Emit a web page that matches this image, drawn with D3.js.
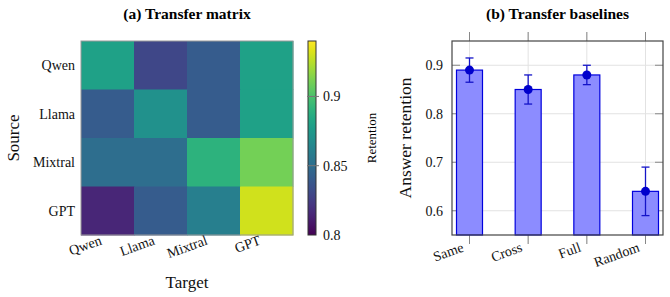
<!DOCTYPE html>
<html>
<head>
    <meta charset="utf-8" />
    <title>Transfer matrix and baselines</title>
    <style>
        body { margin: 0; background: #fff; }
        svg { display: block; font-family: "Liberation Serif", "Times New Roman", serif; }
        .tick-label { font-size: 14px; fill: #111; }
        .title { font-size: 15.5px; font-weight: bold; text-anchor: middle; fill: #000; }
        .axis-label { font-size: 17px; text-anchor: middle; fill: #111; }
    </style>
</head>
<body>
    <svg id="chart" width="670" height="297"></svg>
    <script src="https://d3js.org/d3.v7.min.js"></script>
    <script>
        // heatmap data (rows = source, cols = target)
        var models = ["Qwen", "Llama", "Mixtral", "GPT"];
        var retentionMatrix = [
            [0.88, 0.83, 0.84, 0.88],
            [0.84, 0.87, 0.84, 0.88],
            [0.85, 0.85, 0.89, 0.91],
            [0.815, 0.84, 0.86, 0.93]
        ];
        var colorbarTicks = [0.8, 0.85, 0.9];
        var colorbarTickLabels = ["0.8", "0.85", "0.9"];

        // bar chart data
        var baselines = ["Same", "Cross", "Full", "Random"];
        var baselineValues = [0.89, 0.85, 0.88, 0.64];
        var baselineErrors = [0.025, 0.03, 0.02, 0.05];
        var retentionTicks = [0.6, 0.7, 0.8, 0.9];

        var svg = d3.select("#chart");

        // ---------- (a) heatmap ----------
        var hm = { left: 81, right: 293, top: 41, bottom: 235 };

        var xHeat = d3.scaleBand().domain(models).range([hm.left, hm.right]);
        var yHeat = d3.scaleBand().domain(models).range([hm.top, hm.bottom]);
        var color = d3.scaleSequential(d3.interpolateViridis).domain([0.8, 0.94]);

        var cells = [];
        retentionMatrix.forEach(function(row, i) {
            row.forEach(function(v, j) {
                cells.push({ source: models[i], target: models[j], value: v });
            });
        });

        svg.append("g").selectAll("rect")
            .data(cells)
            .join("rect")
            .attr("x", function(d) { return xHeat(d.target); })
            .attr("y", function(d) { return yHeat(d.source); })
            .attr("width", xHeat.bandwidth() + 0.5)
            .attr("height", yHeat.bandwidth() + 0.5)
            .attr("fill", function(d) { return color(d.value); });

        svg.append("rect")
            .attr("x", hm.left).attr("y", hm.top)
            .attr("width", hm.right - hm.left).attr("height", hm.bottom - hm.top)
            .attr("fill", "none").attr("stroke", "#999").attr("stroke-width", 1);

        svg.append("g").selectAll("text")
            .data(models)
            .join("text")
            .attr("class", "tick-label")
            .attr("x", hm.left - 6)
            .attr("y", function(d) { return yHeat(d) + yHeat.bandwidth() / 2; })
            .attr("dy", "0.35em")
            .attr("text-anchor", "end")
            .text(function(d) { return d; });

        svg.append("g").selectAll("text")
            .data(models)
            .join("text")
            .attr("class", "tick-label")
            .attr("text-anchor", "end")
            .attr("transform", function(d) {
                return "translate(" + (xHeat(d) + xHeat.bandwidth() / 2 - 5) + ",244) rotate(-20)";
            })
            .text(function(d) { return d; });

        svg.append("text")
            .attr("class", "axis-label")
            .attr("transform", "translate(19," + (hm.top + hm.bottom) / 2 + ") rotate(-90)")
            .text("Source");

        svg.append("text")
            .attr("class", "axis-label")
            .attr("x", (hm.left + hm.right) / 2)
            .attr("y", 288)
            .text("Target");

        svg.append("text")
            .attr("class", "title")
            .attr("x", (hm.left + hm.right) / 2)
            .attr("y", 19)
            .text("(a) Transfer matrix");

        // colorbar
        var cb = { x: 308, w: 8, top: 41, bottom: 235 };
        var yBar = d3.scaleLinear().domain(color.domain()).range([cb.bottom, cb.top]);

        var grad = svg.append("defs").append("linearGradient")
            .attr("id", "viridis")
            .attr("x1", "0").attr("y1", "1").attr("x2", "0").attr("y2", "0");
        d3.range(0, 1.001, 0.05).forEach(function(t) {
            grad.append("stop").attr("offset", t).attr("stop-color", d3.interpolateViridis(t));
        });

        svg.append("rect")
            .attr("x", cb.x).attr("y", cb.top)
            .attr("width", cb.w).attr("height", cb.bottom - cb.top)
            .attr("fill", "url(#viridis)")
            .attr("stroke", "#333").attr("stroke-width", 1);

        svg.append("g").selectAll("line")
            .data(colorbarTicks.slice(1))
            .join("line")
            .attr("x1", cb.x - 1).attr("x2", cb.x + cb.w + 3)
            .attr("y1", function(d) { return yBar(d); })
            .attr("y2", function(d) { return yBar(d); })
            .attr("stroke", "#777").attr("stroke-width", 1);

        svg.append("g").selectAll("text")
            .data(colorbarTicks)
            .join("text")
            .attr("class", "tick-label")
            .attr("x", cb.x + cb.w + 7)
            .attr("y", function(d) { return yBar(d); })
            .attr("dy", "0.35em")
            .text(function(d, i) { return colorbarTickLabels[i]; });

        svg.append("text")
            .attr("transform", "translate(376," + (cb.top + cb.bottom) / 2 + ") rotate(-90)")
            .attr("text-anchor", "middle")
            .style("font-size", "13px")
            .text("Retention");

        // ---------- (b) bar chart ----------
        var bc = { left: 452, right: 663, top: 41, bottom: 235 };

        var x = d3.scalePoint().domain(baselines).range([bc.left + 17.5, bc.right - 17.5]);
        var y = d3.scaleLinear().domain([0.55, 0.95]).range([bc.bottom, bc.top]);
        var barWidth = 26;

        // grid
        svg.append("g").selectAll("line")
            .data(retentionTicks)
            .join("line")
            .attr("x1", bc.left).attr("x2", bc.right)
            .attr("y1", function(d) { return y(d); })
            .attr("y2", function(d) { return y(d); })
            .attr("stroke", "#e2e2e2");
        svg.append("g").selectAll("line")
            .data(baselines)
            .join("line")
            .attr("x1", function(d) { return x(d); })
            .attr("x2", function(d) { return x(d); })
            .attr("y1", bc.top - 9).attr("y2", bc.bottom + 9)
            .attr("stroke", "#e2e2e2");
        // outer tick marks on x
        svg.append("g").selectAll("line")
            .data(baselines)
            .join("line")
            .attr("x1", function(d) { return x(d); })
            .attr("x2", function(d) { return x(d); })
            .attr("y1", bc.bottom).attr("y2", bc.bottom + 9)
            .attr("stroke", "#888");
        svg.append("g").selectAll("line")
            .data(baselines)
            .join("line")
            .attr("x1", function(d) { return x(d); })
            .attr("x2", function(d) { return x(d); })
            .attr("y1", bc.top - 9).attr("y2", bc.top)
            .attr("stroke", "#888");
        // inner y ticks
        [bc.left, bc.right - 8].forEach(function(x0) {
            svg.append("g").selectAll("line")
                .data(retentionTicks)
                .join("line")
                .attr("x1", x0).attr("x2", x0 + 8)
                .attr("y1", function(d) { return y(d); })
                .attr("y2", function(d) { return y(d); })
                .attr("stroke", "#888");
        });

        svg.append("g").selectAll("rect")
            .data(baselineValues)
            .join("rect")
            .attr("x", function(d, i) { return x(baselines[i]) - barWidth / 2; })
            .attr("y", function(d) { return y(d); })
            .attr("width", barWidth)
            .attr("height", function(d) { return bc.bottom - y(d); })
            .attr("fill", "#8c8cff")
            .attr("stroke", "#0000dd")
            .attr("stroke-width", 1.2);

        // error bars + markers
        var eb = svg.append("g").attr("stroke", "#1414c8").attr("stroke-width", 1.3);
        baselineValues.forEach(function(v, i) {
            var cx = x(baselines[i]);
            var lo = y(v - baselineErrors[i]), hi = y(v + baselineErrors[i]);
            eb.append("line").attr("x1", cx).attr("x2", cx).attr("y1", lo).attr("y2", hi);
            eb.append("line").attr("x1", cx - 4).attr("x2", cx + 4).attr("y1", lo).attr("y2", lo);
            eb.append("line").attr("x1", cx - 4).attr("x2", cx + 4).attr("y1", hi).attr("y2", hi);
        });
        svg.append("g").selectAll("circle")
            .data(baselineValues)
            .join("circle")
            .attr("cx", function(d, i) { return x(baselines[i]); })
            .attr("cy", function(d) { return y(d); })
            .attr("r", 4.5)
            .attr("fill", "#0000cc");

        svg.append("rect")
            .attr("x", bc.left).attr("y", bc.top)
            .attr("width", bc.right - bc.left).attr("height", bc.bottom - bc.top)
            .attr("fill", "none").attr("stroke", "#444").attr("stroke-width", 1.2);

        svg.append("g").selectAll("text")
            .data(retentionTicks)
            .join("text")
            .attr("class", "tick-label")
            .attr("x", bc.left - 9)
            .attr("y", function(d) { return y(d); })
            .attr("dy", "0.35em")
            .attr("text-anchor", "end")
            .text(function(d) { return d3.format(".1f")(d); });

        svg.append("g").selectAll("text")
            .data(baselines)
            .join("text")
            .attr("class", "tick-label")
            .attr("text-anchor", "end")
            .attr("transform", function(d) {
                return "translate(" + (x(d) - 5) + ",251) rotate(-20)";
            })
            .text(function(d) { return d; });

        svg.append("text")
            .attr("class", "axis-label")
            .style("font-size", "17.5px")
            .attr("transform", "translate(411," + (bc.top + bc.bottom) / 2 + ") rotate(-90)")
            .text("Answer retention");

        svg.append("text")
            .attr("class", "title")
            .attr("x", (bc.left + bc.right) / 2)
            .attr("y", 19)
            .text("(b) Transfer baselines");
    </script>
</body>
</html>
